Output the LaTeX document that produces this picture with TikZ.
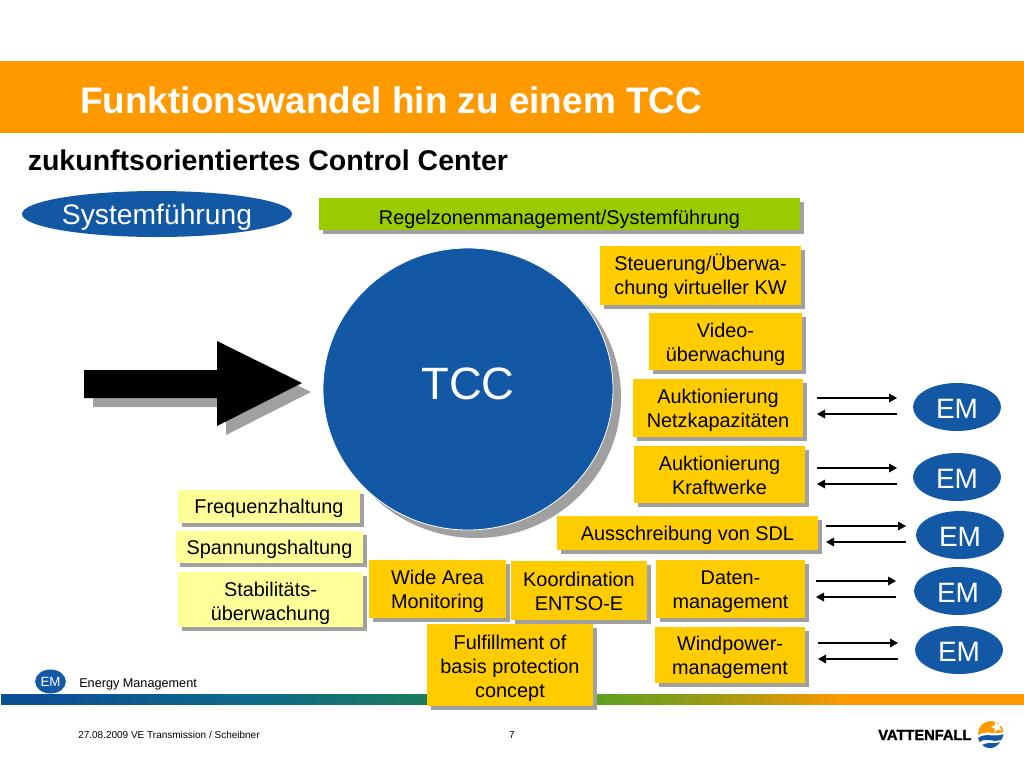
\documentclass[tikz,border=0pt]{standalone}
\usepackage{fontspec}
\setmainfont{Liberation Sans}
\newfontfamily\logofont[FakeBold=1.6]{Liberation Sans Bold}
\definecolor{orangebar}{HTML}{FF9900}
\definecolor{boxyellow}{HTML}{FFCC00}
\definecolor{paleyellow}{HTML}{FFFF99}
\definecolor{limegreen}{HTML}{99CC00}
\definecolor{vblue}{HTML}{1358A5}
\definecolor{shadowgrey}{HTML}{A0A0A0}
\definecolor{barA}{HTML}{0C4F96}
\definecolor{barB}{HTML}{0F6A8A}
\definecolor{barC}{HTML}{1B7C5C}
\definecolor{barD}{HTML}{5FA020}
\definecolor{barE}{HTML}{A09A14}
\pgfdeclarehorizontalshading{barshade}{100bp}{color(0bp)=(barA);color(27bp)=(barA);color(37.2bp)=(barB);color(46bp)=(barC);color(54.3bp)=(barD);color(60bp)=(barE);color(66.5bp)=(orangebar);color(100bp)=(orangebar)}
\usetikzlibrary{shapes.geometric,arrows.meta}
\newcommand{\boxlines}[2]{\raisebox{-#1}[\height][\depth]{\begin{tabular}{@{}c@{}}#2\end{tabular}}}
\tikzset{
  box/.style={minimum width=#1,inner sep=0pt,align=center,font=\fontsize{14.9}{18}\selectfont,
     execute at begin node={\rule{0pt}{14pt}},execute at end node={\rule[-3.2pt]{0pt}{3.2pt}},
     preaction={fill=shadowgrey,transform canvas={shift={(3pt,-3pt)}}}},
  yellowbox/.style={box=#1,fill=boxyellow},
  palebox/.style={box=#1,fill=paleyellow},
  lift/.style={execute at begin node={\rule{0pt}{#1}}},
  emnode/.style={ellipse,fill=vblue,text=white,inner sep=0pt,minimum width=66pt,minimum height=36pt,font=\fontsize{21}{24}\selectfont,execute at begin node={\rule{0pt}{17.4pt}}},
  flow/.style={-{Triangle[length=6pt,width=6.5pt]},line width=0.9pt},
}
\begin{document}
\begin{tikzpicture}[x=0.75pt,y=-0.75pt]
\useasboundingbox (0,0) rectangle (1024,768);
\fill[white] (0,0) rectangle (1024,768);
% bars
\fill[orangebar] (0,61) rectangle (1024,133);
\node[anchor=west,text=white,inner sep=0pt,font=\bfseries\fontsize{27.7}{32}\selectfont] (title) at (80,100) {Funktionswandel hin zu einem TCC};
\node[anchor=west,inner sep=0pt,font=\bfseries\fontsize{21.4}{26}\selectfont] (sub) at (27.5,160) {zukunftsorientiertes Control Center};
\path[shading=barshade] (1,694) rectangle (1024,704);
% Systemfuehrung
\node[ellipse,fill=vblue,text=white,inner sep=0pt,minimum width=202.5pt,minimum height=34.5pt,font=\fontsize{21.2}{24}\selectfont,execute at begin node={\rule{0pt}{19.5pt}}] (sys) at (157,214) {Systemführung};
% arrow
\fill[shadowgrey,shift={(9,9)}] (84,370) -- (217,370) -- (217,341) -- (302,383) -- (217,426) -- (217,398) -- (84,398) -- cycle;
\fill[black] (84,370) -- (217,370) -- (217,341) -- (302,383) -- (217,426) -- (217,398) -- (84,398) -- cycle;
% TCC
\fill[shadowgrey] (476,397) ellipse [x radius=145,y radius=141];
\draw[white,line width=0.6pt,fill=vblue] (468,389) ellipse [x radius=145,y radius=141];
\node[text=white,inner sep=0pt,font=\fontsize{34}{40}\selectfont] (tcc) at (468,384) {TCC};
% boxes
\node[box=360.75pt,fill=limegreen,minimum height=24pt,lift=18.5pt] (regel) at (559.5,214) {Regelzonenmanagement/Systemführung};
\node[yellowbox=150.75pt,minimum height=44.25pt] (steu) at (700.5,275.5) {\boxlines{1.5pt}{Steuerung/Überwa-\\chung virtueller KW}};
\node[yellowbox=114.75pt,minimum height=42.75pt] (video) at (725.5,341.5) {\boxlines{2.6pt}{Video-\\überwachung}};
\node[yellowbox=127.5pt,minimum height=43.5pt] (anetz) at (718,408) {\boxlines{1.8pt}{Auktionierung\\Netzkapazitäten}};
\node[yellowbox=128.25pt,minimum height=42.75pt] (akw) at (719.5,474.5) {\boxlines{2.2pt}{Auktionierung\\Kraftwerke}};
\node[yellowbox=195.75pt,minimum height=25.5pt] (sdl) at (687.5,533) {Ausschreibung von SDL};
\node[yellowbox=111.75pt,minimum height=43.5pt] (daten) at (730.5,589) {\boxlines{1.8pt}{Daten-\\management}};
\node[yellowbox=112.5pt,minimum height=42pt] (wind) at (730,655) {\boxlines{1.8pt}{Windpower-\\management}};
\node[yellowbox=124.5pt,minimum height=61.5pt] (fulf) at (510,665) {\boxlines{2.5pt}{Fulfillment of\\basis protection\\concept}};
\node[yellowbox=102pt,minimum height=44.25pt] (koord) at (579,590.5) {\boxlines{2.2pt}{Koordination\\ENTSO-E}};
\node[yellowbox=102.75pt,minimum height=43.5pt] (wam) at (437.5,589) {\boxlines{1.8pt}{Wide Area\\Monitoring}};
\node[palebox=136.5pt,minimum height=24.75pt] (freq) at (269,506.5) {Frequenzhaltung};
\node[palebox=140.25pt,minimum height=24pt] (spann) at (269.5,547) {Spannungshaltung};
\node[palebox=138.75pt,minimum height=41.25pt] (stab) at (270.5,599.5) {\boxlines{2.9pt}{Stabilitäts-\\überwachung}};
% EM
\node[emnode] (em1) at (957,407) {EM};
\node[emnode] (em2) at (957,477) {EM};
\node[emnode] (em3) at (960,535) {EM};
\node[emnode] (em4) at (958,591) {EM};
\node[emnode] (em5) at (959,650) {EM};
% arrow ends
\foreach \n/\xa/\xb/\ya/\yb in {1/817/897/398/414,2/817/897/468/484,3/826/906/526/542,4/816/896/581/597,5/818/898/643/659}{
  \coordinate (l\n a) at (\xa,\ya);
  \coordinate (r\n a) at (\xb,\ya);
  \coordinate (l\n b) at (\xa,\yb);
  \coordinate (r\n b) at (\xb,\yb);
  \draw[flow] (l\n a) -- (r\n a);
  \draw[flow] (r\n b) -- (l\n b);
}
% legend
\node[ellipse,fill=vblue,text=white,inner sep=0pt,minimum width=23pt,minimum height=18pt,font=\fontsize{10}{11}\selectfont] (emsmall) at (50.5,681.5) {EM};
\node[anchor=west,inner sep=0pt,font=\fontsize{9.5}{10}\selectfont] (emtext) at (79,684) {Energy Management};
\node[anchor=west,inner sep=0pt,font=\fontsize{7.5}{8}\selectfont] (date) at (78,735) {27.08.2009 VE Transmission / Scheibner};
\node[inner sep=0pt,font=\fontsize{7.5}{8}\selectfont] (page) at (512,735) {7};
% logo
\node[anchor=west,inner sep=0pt,font=\logofont\fontsize{11}{12}\selectfont] (logo) at (878,735) {VATTENFALL};
\fill[orangebar] (978,735) .. controls (978,726) and (984,721) .. (991,721) .. controls (998,721) and (1003,726) .. (1003.5,732) .. controls (996,735) and (986,730) .. (978,735) -- cycle;
\node[star,star points=5,star point ratio=2.2,fill=white,inner sep=0pt,minimum size=9pt,rotate=15] (logostar) at (997,727) {};
\fill[vblue] (978,738) .. controls (986,732) and (995,738) .. (1003.5,734) .. controls (1003,737) and (1002,739) .. (1001,740) .. controls (994,743) and (986,737) .. (979.5,742) -- cycle;
\fill[vblue] (982,745) .. controls (988,741) and (994,745) .. (1000,742) .. controls (996,749) and (987,750) .. (982,745) -- cycle;
\end{tikzpicture}
\end{document}
